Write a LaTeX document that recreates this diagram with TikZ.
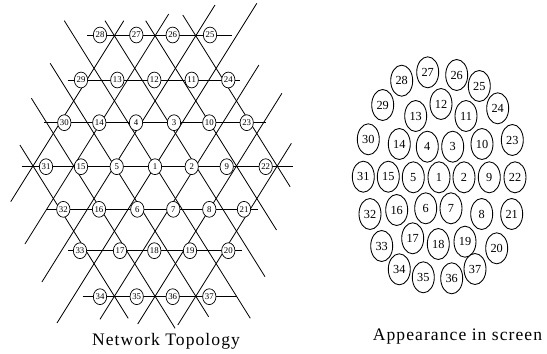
\documentclass[tikz,border=0pt]{standalone}
\usepackage{fontspec}
\setmainfont{Liberation Serif}
\newfontfamily\capfont[LetterSpace=6]{Liberation Serif}
\usetikzlibrary{shapes.geometric}
\begin{document}
\begin{tikzpicture}[x=0.03cm,y=-0.03cm,
  grid/.style={black,line width=0.7pt},
  topo/.style={ellipse,draw,fill=white,line width=0.6pt,inner sep=0pt,
    minimum width=0.4cm,minimum height=0.475cm,font=\fontsize{7.5}{9}\selectfont},
  screen/.style={ellipse,draw,fill=white,line width=0.75pt,inner sep=0pt,
    minimum width=0.66cm,minimum height=0.93cm,font=\fontsize{10.5}{12}\selectfont},
  caption/.style={anchor=base,inner sep=0pt,font=\capfont\fontsize{15}{18}\selectfont}]
  \useasboundingbox (0,0) rectangle (547,353);
  % lattice lines going down to the left
  \draw [grid] (123.8,20.7) -- (10.7,201.7);
  \draw [grid] (168.7,14) -- (24.95,244);
  \draw [grid] (215.0,5) -- (41.9,282);
  \draw [grid] (256.8,3.3) -- (57,323);
  \draw [grid] (258.9,65) -- (100,319.3);
  \draw [grid] (281.9,93.3) -- (137.75,324);
  \draw [grid] (291.4,143.3) -- (177.8,325);
  % lattice lines going down to the right
  \draw [grid] (19.9,145) -- (128.2,318.3);
  \draw [grid] (31.4,98.3) -- (175.1,328.3);
  \draw [grid] (50.2,63.3) -- (208.6,316.7);
  \draw [grid] (64.3,20.7) -- (250.3,318.3);
  \draw [grid] (105,20.7) -- (265,276.7);
  \draw [grid] (145.7,20.7) -- (276.5,230);
  \draw [grid] (182.8,15) -- (290.1,186.7);
  % rows
  \draw [grid] (87.3,35) -- (231.7,35);
  \draw [grid] (67.7,80) -- (240,80);
  \draw [grid] (44.3,122.7) -- (265.7,122.7);
  \draw [grid] (21.7,166.7) -- (293.3,166.7);
  \draw [grid] (46.7,209.3) -- (258.3,209.3);
  \draw [grid] (68.3,250.7) -- (241.7,250.7);
  \draw [grid] (82.7,296.7) -- (237.3,296.7);
  % network topology
  \node [topo] (t28) at (100,35) {28};
  \node [topo] (t27) at (136.3,35) {27};
  \node [topo] (t26) at (172.7,35) {26};
  \node [topo] (t25) at (210,35) {25};
  \node [topo] (t29) at (81,80) {29};
  \node [topo] (t13) at (117.3,80) {13};
  \node [topo] (t12) at (154.3,80) {12};
  \node [topo] (t11) at (191.7,80) {11};
  \node [topo] (t24) at (228.3,80) {24};
  \node [topo] (t30) at (64.3,122.7) {30};
  \node [topo] (t14) at (99.3,122.7) {14};
  \node [topo] (t4) at (136,122.7) {4};
  \node [topo] (t3) at (174,122.7) {3};
  \node [topo] (t10) at (209.3,122.7) {10};
  \node [topo] (t23) at (246.7,122.7) {23};
  \node [topo] (t31) at (46,166.7) {31};
  \node [topo] (t15) at (81,166.7) {15};
  \node [topo] (t5) at (116.7,166.7) {5};
  \node [topo] (t1) at (155,166.7) {1};
  \node [topo] (t2) at (191.7,166.7) {2};
  \node [topo] (t9) at (226.7,166.7) {9};
  \node [topo] (t22) at (265.7,166.7) {22};
  \node [topo] (t32) at (63.3,209.3) {32};
  \node [topo] (t16) at (99,209.3) {16};
  \node [topo] (t6) at (137.3,209.3) {6};
  \node [topo] (t7) at (173.3,209.3) {7};
  \node [topo] (t8) at (209.3,209.3) {8};
  \node [topo] (t21) at (244,209.3) {21};
  \node [topo] (t33) at (80,250.7) {33};
  \node [topo] (t17) at (120,250.7) {17};
  \node [topo] (t18) at (154.3,250.7) {18};
  \node [topo] (t19) at (190,250.7) {19};
  \node [topo] (t20) at (228.3,250.7) {20};
  \node [topo] (t34) at (100,296.7) {34};
  \node [topo] (t35) at (136.7,296.7) {35};
  \node [topo] (t36) at (172.7,296.7) {36};
  \node [topo] (t37) at (209.3,296.7) {37};
  % appearance in screen
  \node [screen] (s27) at (427.7,72.3) {27};
  \node [screen] (s28) at (401.7,80.7) {28};
  \node [screen] (s26) at (456.7,75) {26};
  \node [screen] (s25) at (479.3,86) {25};
  \node [screen] (s29) at (382.7,105) {29};
  \node [screen] (s12) at (441,104) {12};
  \node [screen] (s13) at (415.7,116) {13};
  \node [screen] (s11) at (466,116) {11};
  \node [screen] (s24) at (497.7,108.3) {24};
  \node [screen] (s30) at (368.3,139.3) {30};
  \node [screen] (s14) at (399.3,144) {14};
  \node [screen] (s4) at (427.3,146.7) {4};
  \node [screen] (s3) at (452.7,146.7) {3};
  \node [screen] (s10) at (482,144) {10};
  \node [screen] (s23) at (512.3,140) {23};
  \node [screen] (s31) at (363.3,176.7) {31};
  \node [screen] (s15) at (388.3,176.7) {15};
  \node [screen] (s5) at (413.3,177.3) {5};
  \node [screen] (s1) at (439,177.3) {1};
  \node [screen] (s2) at (464,177.3) {2};
  \node [screen] (s9) at (489.3,177.3) {9};
  \node [screen] (s22) at (515,177.3) {22};
  \node [screen] (s32) at (370,214) {32};
  \node [screen] (s16) at (396.7,210) {16};
  \node [screen] (s6) at (425.7,208.3) {6};
  \node [screen] (s7) at (451,208.3) {7};
  \node [screen] (s8) at (481.7,214) {8};
  \node [screen] (s21) at (511.7,214) {21};
  \node [screen] (s33) at (381.7,246) {33};
  \node [screen] (s17) at (412.7,238.3) {17};
  \node [screen] (s18) at (438.3,244) {18};
  \node [screen] (s19) at (465,241.7) {19};
  \node [screen] (s20) at (496.7,248.3) {20};
  \node [screen] (s34) at (399.3,269.3) {34};
  \node [screen] (s35) at (423.3,277.3) {35};
  \node [screen] (s36) at (451.7,278.3) {36};
  \node [screen] (s37) at (475,269) {37};
  % captions
  \node [caption] (topology) at (166,345.7) {Network Topology};
  \node [caption] (appearance) at (457.5,340.7) {Appearance in screen};
\end{tikzpicture}
\end{document}
